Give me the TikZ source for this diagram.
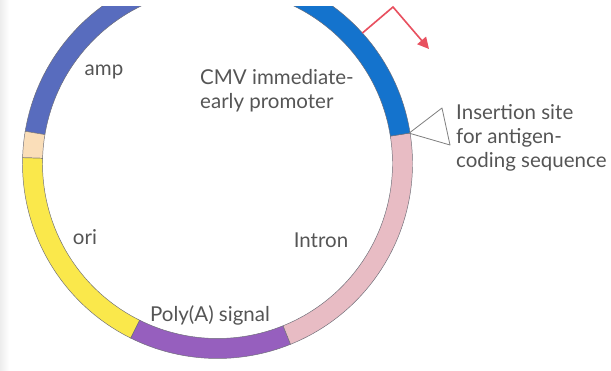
\documentclass[tikz,border=0pt]{standalone}
\usepackage{fontspec}
\setmainfont{Lato}
\usepackage{xcolor}
\usepackage{tikz}
\usetikzlibrary{arrows.meta}

\definecolor{ampblue}{RGB}{88,108,190}
\definecolor{cmvblue}{RGB}{20,115,205}
\definecolor{spacerbeige}{RGB}{250,222,185}
\definecolor{oriyellow}{RGB}{250,232,75}
\definecolor{polyapurple}{RGB}{150,95,190}
\definecolor{intronpink}{RGB}{232,188,196}
\definecolor{promred}{RGB}{232,80,95}
\definecolor{labelgray}{RGB}{85,85,85}
\definecolor{ringedge}{RGB}{110,110,120}

% one coloured piece of the plasmid ring: start angle, end angle, fill
\newcommand{\plasmidseg}[3]{%
  \filldraw[seg, fill=#3] (c) ++(#1:195) arc[start angle=#1, end angle=#2, radius=195]
    -- ([shift={(#2:175)}]c) arc[start angle=#2, end angle=#1, radius=175] -- cycle;}

\begin{document}
\begin{tikzpicture}[
  x=0.03cm, y=0.03cm,
  lbl/.style={font=\fontsize{17.5}{20.5}\selectfont, text=labelgray, align=left, inner sep=0pt},
  seg/.style={draw=ringedge, line width=0.4pt},
  promoter/.style={draw=promred, line width=1.4pt, -{Triangle[length=3.4mm, width=3.4mm]}},
  wedge/.style={draw=gray, line width=0.7pt, line join=round}
]
\useasboundingbox (0,0) rectangle (611,371);
\shade[left color=gray!14, right color=white] (0,0) rectangle (9,371);
\coordinate (c) at (217.5,207.5);

\begin{scope}
\clip (0,0) rectangle (611,364);
\plasmidseg{95}{170.5}{ampblue}
\plasmidseg{170.5}{178.3}{spacerbeige}
\plasmidseg{178.3}{243.6}{oriyellow}
\plasmidseg{243.6}{292}{polyapurple}
\plasmidseg{292}{369}{intronpink}
\plasmidseg{9}{95}{cmvblue}
\end{scope}

% labels
\node[lbl] (amp) at (104,299) {amp};
\node[lbl, anchor=west] (cmv) at (200,280.5) {CMV immediate-\\early promoter};
\node[lbl, anchor=west] (insert) at (456,233.5) {Insertion site\\for antigen-\\coding sequence};
\node[lbl] (ori) at (85,134) {ori};
\node[lbl] (intron) at (321,131) {Intron};
\node[lbl] (polya) at (210,56) {Poly(A) signal};

% transcription start and insertion site
\coordinate (tss) at ([shift={(42:195)}]c);
\coordinate (bend) at (393,364);
\coordinate (tip) at (429,322);
\draw[promoter] (tss) -- (bend) -- (tip);

\coordinate (site) at ([shift={(9:194)}]c);
\coordinate (wtop) at (442,263);
\coordinate (wbot) at (450,226);
\draw[wedge] (site) -- (wtop) -- (wbot) -- cycle;
\end{tikzpicture}
\end{document}
